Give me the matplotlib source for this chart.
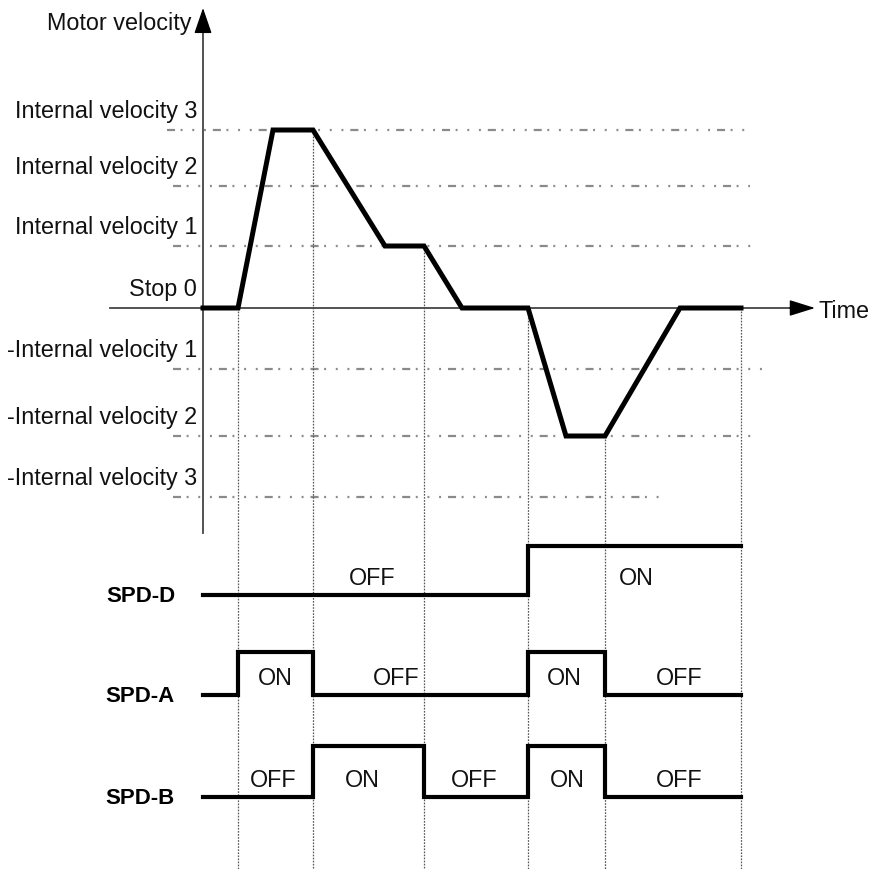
import matplotlib
matplotlib.use('Agg')
import matplotlib.pyplot as plt
import numpy as np

plt.rcParams['font.family'] = ['Liberation Sans', 'DejaVu Sans']
plt.rcParams['lines.scale_dashes'] = False

# ============================================================
# DATA
# ============================================================
# velocity profile (time in arbitrary units, velocity in level steps)
vel_t = [0, 35, 70, 110, 182, 221, 259, 325, 363, 402, 477, 538]
vel_v = [0, 0, 3, 3, 1, 1, 0, 0, -2, -2, 0, 0]

level_values = [3, 2, 1, 0, -1, -2, -3]
level_labels = ["Internal velocity 3", "Internal velocity 2", "Internal velocity 1", "Stop 0",
                "-Internal velocity 1", "-Internal velocity 2", "-Internal velocity 3"]
level_line_end = [545, 547, 549, None, 562, 555, 462]

# switching instants (segment edges) for the SPD inputs
edges = [0, 35, 110, 221, 325, 402, 538]
event_t = [35, 110, 221, 325, 402, 538]
event_v = [0, 3, 1, 0, -2, 0]

signal_names = ["SPD-D", "SPD-A", "SPD-B"]
spd_d = [0, 0, 0, 0, 1, 1]
spd_a = [0, 1, 0, 0, 1, 0]
spd_b = [0, 0, 1, 0, 1, 0]

spd_d_text = ["OFF", "ON"]
spd_d_text_t = [169, 433]
spd_a_text = ["ON", "OFF", "ON", "OFF"]
spd_a_text_t = [72, 193, 361, 476]
spd_b_text = ["OFF", "ON", "OFF", "ON", "OFF"]
spd_b_text_t = [70, 159, 271, 364, 476]

# ============================================================
# LAYOUT
# ============================================================
X0 = 203          # pixel of t = 0
W, H = 872, 869
SC = 61.2         # px per velocity step outside the level ladder

# the level ladder in the drawing is not evenly spaced -> piecewise scale
ladder_lvl = np.array([-14.0, -3, -2, -1, 0, 1, 2, 3, 8])
ladder_px = np.array([497 + 11 * SC, 497, 436, 369, 308, 246, 186, 130, 130 - 5 * SC])


def fwd(v):
    return -np.interp(v, ladder_lvl, ladder_px)


def inv(p):
    return np.interp(p, -ladder_px, ladder_lvl)


def vy(px):
    return float(inv(-px))


def dv(px_from, dpx):
    # data value dpx pixels above pixel px_from
    return vy(px_from - dpx)


signal_base_px = [595, 695, 797]
signal_high_px = [546, 652, 746]

fig = plt.figure(figsize=(W / 100, H / 100), dpi=100)
ax = fig.add_axes([0, 0, 1, 1])
ax.set_yscale('function', functions=(fwd, inv))
ax.set_xlim(-X0, W - X0)
ax.set_ylim(vy(H), vy(0))
ax.axis('off')

fs = 16.8
dash_dot3 = (0, (5.8, 4.0, 1.4, 7.0, 1.4, 7.0, 1.4, 5.0))

# level reference lines + labels
for v, lab, end in zip(level_values, level_labels, level_line_end):
    if end is not None:
        start = -36 if v == 3 else -30
        ax.plot([start, end], [v, v], color='#8a8a8a', lw=1.6, ls=dash_dot3, zorder=1)
    ypx = -fwd(v)
    ax.text(-6, dv(ypx, 12), lab, ha='right', va='baseline', fontsize=fs, color='#111111')

# vertical event lines
for t, v in zip(event_t, event_v):
    ax.plot([t, t], [v, vy(H)], color='#555555', lw=0.9, ls=(0, (1.2, 1.0)), zorder=1)

# axes with arrows
ax.plot([0, 0], [vy(533), vy(28)], color='#444444', lw=1.3, zorder=2)
ax.plot([110 - X0, 795 - X0], [0, 0], color='#444444', lw=1.3, zorder=2)
ax.annotate('', xy=(0, vy(8)), xytext=(0, vy(32)),
            arrowprops=dict(arrowstyle='-|>,head_length=1.6,head_width=0.55',
                            color='black', lw=1.0, shrinkA=0, shrinkB=0))
ax.annotate('', xy=(815 - X0, 0), xytext=(790 - X0, 0),
            arrowprops=dict(arrowstyle='-|>,head_length=1.6,head_width=0.5',
                            color='black', lw=1.0, shrinkA=0, shrinkB=0))
ax.text(-12, vy(30), "Motor velocity", ha='right', va='baseline', fontsize=fs, color='#111111')
ax.text(818 - X0, vy(318), "Time", ha='left', va='baseline', fontsize=fs, color='#111111')

# velocity profile
ax.plot(vel_t, vel_v, color='black', lw=3.6, solid_joinstyle='miter', zorder=3)

# SPD signals
signals = [spd_d, spd_a, spd_b]
texts = [(spd_d_text, spd_d_text_t), (spd_a_text, spd_a_text_t), (spd_b_text, spd_b_text_t)]
for name, states, bpx, hpx, (tx, tt) in zip(signal_names, signals, signal_base_px,
                                            signal_high_px, texts):
    base, high = vy(bpx), vy(hpx)
    levels = [high if s else base for s in states]
    ax.step(edges, levels + [levels[-1]], where='post', color='black', lw=3.0,
            solid_joinstyle='miter', zorder=3)
    ax.text(175 - X0, dv(bpx, -7), name, ha='right', va='baseline', fontsize=16,
            fontweight='bold', color='black')
    for s, t in zip(tx, tt):
        ax.text(t, dv(bpx, 10), s, ha='center', va='baseline', fontsize=fs, color='#111111')

plt.savefig('out.png', dpi=100)
